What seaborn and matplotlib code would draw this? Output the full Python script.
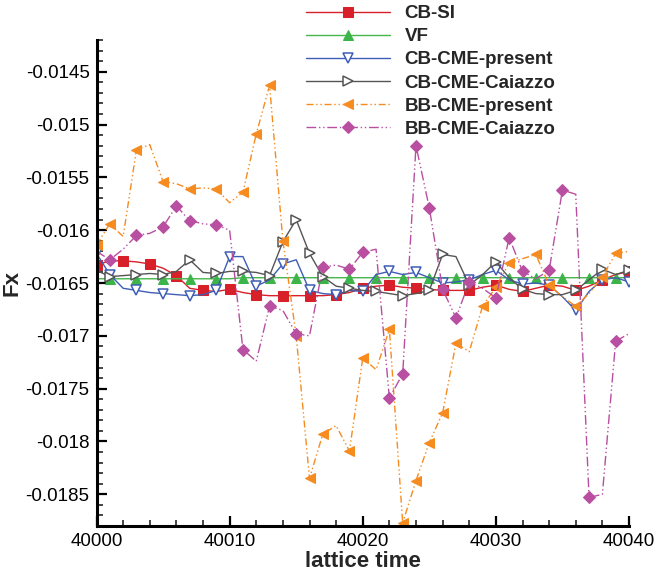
import matplotlib
matplotlib.use("Agg")
import matplotlib.pyplot as plt
import seaborn as sns
import pandas as pd
from matplotlib.ticker import FixedLocator, MultipleLocator, FuncFormatter

time = list(range(40000, 40041))

cb_si = [-0.01633, -0.01629, -0.01629, -0.01630, -0.01632, -0.01636, -0.01643, -0.01655, -0.01657, -0.01658,
         -0.01656, -0.01659, -0.01661, -0.01662, -0.01662, -0.01662, -0.01662, -0.01662, -0.01661, -0.01659,
         -0.01655, -0.01653, -0.01652, -0.01654, -0.01655, -0.01656, -0.01657, -0.01657, -0.01657, -0.01654,
         -0.01652, -0.01656, -0.01658, -0.01655, -0.01652, -0.01653, -0.01657, -0.01653, -0.01647, -0.01642,
         -0.01639]

vf = [-0.01646, -0.01646, -0.01646, -0.01646, -0.01646, -0.01646, -0.01646, -0.01646, -0.01646, -0.01646,
      -0.01646, -0.01645, -0.01645, -0.01645, -0.01645, -0.01645, -0.01645, -0.01645, -0.01645, -0.01645,
      -0.01645, -0.01645, -0.01645, -0.01645, -0.01645, -0.01645, -0.01645, -0.01645, -0.01645, -0.01645,
      -0.01645, -0.01645, -0.01645, -0.01645, -0.01645, -0.01645, -0.01645, -0.01645, -0.01645, -0.01645,
      -0.01645]

cb_cme_present = [-0.01622, -0.01642, -0.01655, -0.01657, -0.01659, -0.01660, -0.01661, -0.01662, -0.01661, -0.01657,
                  -0.01625, -0.01625, -0.01653, -0.01647, -0.01632, -0.01628, -0.01657, -0.01660, -0.01661, -0.01657,
                  -0.01658, -0.01642, -0.01639, -0.01642, -0.01640, -0.01645, -0.01650, -0.01649, -0.01647, -0.01642,
                  -0.01638, -0.01647, -0.01651, -0.01650, -0.01652, -0.01663, -0.01676, -0.01658, -0.01647, -0.01645,
                  -0.01649]

cb_cme_caiazzo = [-0.01638, -0.01644, -0.01643, -0.01642, -0.01641, -0.01642, -0.01639, -0.01628, -0.01640, -0.01641,
                  -0.01639, -0.01639, -0.01640, -0.01643, -0.01611, -0.01590, -0.01622, -0.01644, -0.01653, -0.01655,
                  -0.01657, -0.01658, -0.01660, -0.01662, -0.01660, -0.01657, -0.01623, -0.01625, -0.01652, -0.01642,
                  -0.01630, -0.01645, -0.01656, -0.01660, -0.01661, -0.01661, -0.01657, -0.01647, -0.01637, -0.01642,
                  -0.01638]

bb_cme_present = [-0.01614, -0.01594, -0.01606, -0.01524, -0.01519, -0.01554, -0.01556, -0.01561, -0.01560, -0.01561,
                  -0.01574, -0.01564, -0.01509, -0.01463, -0.01610, -0.01700, -0.01835, -0.01793, -0.01785, -0.01809,
                  -0.01721, -0.01732, -0.01694, -0.01877, -0.01837, -0.01801, -0.01773, -0.01707, -0.01715, -0.01672,
                  -0.01654, -0.01631, -0.01627, -0.01623, -0.01652, -0.01663, -0.01672, -0.01660, -0.01644, -0.01622,
                  -0.01620]

bb_cme_caiazzo = [-0.01620, -0.01628, -0.01618, -0.01605, -0.01603, -0.01597, -0.01577, -0.01591, -0.01594, -0.01595,
                  -0.01600, -0.01713, -0.01724, -0.01672, -0.01676, -0.01698, -0.01700, -0.01635, -0.01633, -0.01637,
                  -0.01621, -0.01618, -0.01759, -0.01736, -0.01520, -0.01579, -0.01656, -0.01683, -0.01649, -0.01655,
                  -0.01664, -0.01607, -0.01639, -0.01646, -0.01638, -0.01562, -0.01566, -0.01853, -0.01850, -0.01705,
                  -0.01698]

labels = ["CB-SI", "VF", "CB-CME-present", "CB-CME-Caiazzo", "BB-CME-present", "BB-CME-Caiazzo"]
x_ticks = [40000, 40010, 40020, 40030, 40040]
y_ticks = [-0.0145, -0.015, -0.0155, -0.016, -0.0165, -0.017, -0.0175, -0.018, -0.0185]

# marker positions (indices) as drawn in the reference
mk_red = list(range(0, 41, 2))
mk_green = list(range(1, 41, 2))
mk_blue = [0, 1, 3, 5, 7, 9, 10, 12, 14, 16, 18, 20, 22, 24, 26, 28, 30, 32, 34, 36, 38, 40]
mk_gray = [1, 3, 5, 7, 9, 11, 13, 14, 15, 16, 17, 19, 21, 23, 25, 26, 28, 30, 32, 34, 36, 38, 40]
mk_orange = [0, 1, 3, 5, 7, 9, 11, 12, 13, 14, 15, 16, 17, 19, 20, 22, 23, 24, 25, 26, 27, 29, 30, 31, 33, 34, 36, 38, 39]
mk_pink = [1, 3, 5, 6, 7, 9, 11, 13, 15, 17, 19, 20, 22, 23, 24, 25, 26, 27, 28, 30, 31, 32, 34, 35, 37, 39]

df = pd.DataFrame({"t": time, "CB-SI": cb_si, "VF": vf, "CB-CME-present": cb_cme_present,
                   "CB-CME-Caiazzo": cb_cme_caiazzo, "BB-CME-present": bb_cme_present,
                   "BB-CME-Caiazzo": bb_cme_caiazzo})

sns.set_style("ticks")
plt.rcParams["font.family"] = ["Liberation Sans", "DejaVu Sans"]
plt.rcParams["axes.unicode_minus"] = False

fig = plt.figure(figsize=(6.55, 5.74), dpi=100)
ax = fig.add_axes([96.5 / 655, 1 - 526 / 574, (629 - 96.5) / 655, (526 - 40) / 574])

styles = [
    dict(color="#d7202a", marker="s", ms=7.4, mfc="#d7202a", mec="#d7202a", ls="-", markevery=mk_red),
    dict(color="#45b649", marker="^", ms=7.2, mfc="#3cb44a", mec="#3cb44a", ls="-", markevery=mk_green),
    dict(color="#3e5db5", marker="v", ms=7.4, mfc="white", mec="#3e5db5", mew=1.1, ls="-", markevery=mk_blue),
    dict(color="#555555", marker=">", ms=7.4, mfc="white", mec="#555555", mew=1.1, ls="-", markevery=mk_gray),
    dict(color="#f68b1f", marker="<", ms=7.6, mfc="#f68b1f", mec="#f68b1f", ls=(0, (5, 2, 1, 2, 1, 2)), markevery=mk_orange),
    dict(color="#b84fa1", marker="D", ms=6.4, mfc="#b84fa1", mec="#b84fa1", ls=(0, (7, 2, 1, 2, 1, 2)), markevery=mk_pink),
]

for lab, st in zip(labels, styles):
    sns.lineplot(data=df, x="t", y=lab, ax=ax, label=lab, lw=1.0, **st)

ax.set_xlim(40000, 40040)
ax.set_ylim(-0.0188, -0.0142)
ax.xaxis.set_major_locator(FixedLocator(x_ticks))
ax.xaxis.set_minor_locator(MultipleLocator(2))
ax.yaxis.set_major_locator(FixedLocator(y_ticks))
ax.yaxis.set_minor_locator(MultipleLocator(0.0001))
ax.yaxis.set_major_formatter(FuncFormatter(lambda v, p: "%g" % v))
ax.xaxis.set_major_formatter(FuncFormatter(lambda v, p: "%d" % round(v)))

for s in ["top", "right"]:
    ax.spines[s].set_visible(False)
for s in ["left", "bottom"]:
    ax.spines[s].set_linewidth(2.2)
    ax.spines[s].set_color("black")

ax.tick_params(which="major", direction="in", length=7.5, width=1.6, labelsize=13.5, pad=5, colors="black")
ax.tick_params(which="minor", direction="in", length=4, width=1.2)
ax.tick_params(top=False, right=False, which="both")

ax.set_xlabel("lattice time", fontsize=16, fontweight="bold", labelpad=1)
ax.set_ylabel("Fx", fontsize=16, fontweight="bold", labelpad=2)

leg = ax.legend(loc="upper left", bbox_to_anchor=(306 / 655, 1 - 5 / 574), bbox_transform=fig.transFigure,
                frameon=False, numpoints=1, handlelength=4.5, handletextpad=0.75, labelspacing=0.32,
                borderpad=0, borderaxespad=0, prop={"size": 13.5, "weight": "bold"})
leg.set_zorder(10)

fig.savefig("out.png", dpi=100)
